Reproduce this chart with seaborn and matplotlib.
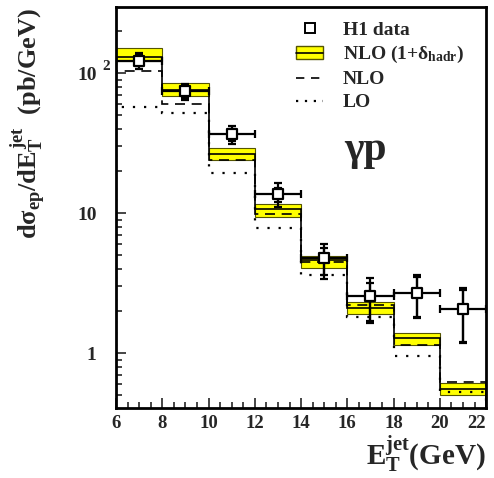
import numpy as np
import seaborn as sns
import matplotlib
matplotlib.use("Agg")
import matplotlib.pyplot as plt
from matplotlib.patches import Patch
from matplotlib.lines import Line2D
from matplotlib.ticker import FixedLocator, LogLocator, MultipleLocator, NullFormatter

# bin edges in E_T^jet (GeV)
edges = [6, 8, 10, 12, 14, 16, 18, 20, 22]
centers = [7, 9, 11, 13, 15, 17, 19, 21]

# H1 data with total error range
data_y = [123, 74, 36.7, 13.7, 4.77, 2.55, 2.68, 2.06]
data_hi = [139, 84, 41.8, 16.4, 6.0, 3.43, 3.6, 2.91]
data_lo = [107, 64, 31.0, 11.0, 3.38, 1.64, 1.78, 1.18]
data_stat_hi = [134, 81, 40.0, 15.2, 5.6, 3.2, 3.5, 2.85]
data_stat_lo = [112, 67, 33.0, 12.0, 3.6, 1.7, 1.8, 1.2]

# NLO x (1 + delta_hadr) band
nlo_had = [130, 75.6, 26.4, 10.7, 4.6, 2.1, 1.28, 0.56]
nlo_had_hi = [151, 85, 29.0, 11.6, 4.93, 2.31, 1.39, 0.61]
nlo_had_lo = [122, 68.5, 23.9, 9.36, 4.05, 1.9, 1.14, 0.50]

# pure NLO and LO
nlo = [103, 60, 24.0, 9.84, 4.47, 2.2, 1.14, 0.62]
lo = [57, 52, 19.3, 7.8, 3.6, 1.81, 0.95, 0.53]

y_ticks = [1, 10, 100]
y_ticklabels = ["1", "10", "10"]

sns.set_style("ticks")
plt.rcParams["font.family"] = ["Liberation Serif", "DejaVu Serif"]
plt.rcParams["font.weight"] = "bold"
plt.rcParams["mathtext.fontset"] = "custom"
plt.rcParams["mathtext.rm"] = "Liberation Serif:bold"
plt.rcParams["mathtext.it"] = "Liberation Serif:bold"
plt.rcParams["mathtext.bf"] = "Liberation Serif:bold"

fig = plt.figure(figsize=(4.94, 4.78), dpi=100)
ax = fig.add_axes([0.235, 0.146, 0.749, 0.839])

e = np.array(edges)
lo_b = np.array(nlo_had_lo)
hi_b = np.array(nlo_had_hi)

# yellow band per bin
ax.bar(e[:-1], hi_b - lo_b, bottom=lo_b, width=np.diff(e), align="edge",
       color="#ffff00", edgecolor="#555500", linewidth=0.8, zorder=2)
ax.stairs(nlo_had, edges, color="black", linewidth=1.2, zorder=3)
ax.stairs(nlo, edges, color="black", linewidth=1.2, linestyle=(0, (6, 4)), zorder=3)
ax.stairs(lo, edges, color="black", linewidth=1.6, linestyle=(0, (1, 4)), zorder=3)

# data points (total and stat errors)
xerr = np.diff(e) / 2
yd = np.array(data_y)
ax.errorbar(centers, data_y, xerr=xerr,
            yerr=[yd - np.array(data_lo), np.array(data_hi) - yd],
            fmt="none", ecolor="black", elinewidth=1.6, capsize=3, capthick=1.6, zorder=4)
ax.errorbar(centers, data_y,
            yerr=[yd - np.array(data_stat_lo), np.array(data_stat_hi) - yd],
            fmt="none", ecolor="black", elinewidth=1.6, capsize=3, capthick=1.6, zorder=4)
sns.scatterplot(x=centers, y=data_y, marker="s", s=60, facecolor="white",
                edgecolor="black", linewidth=1.6, zorder=5, ax=ax)

ax.set_yscale("log")
ax.set_xlim(6, 22)
ax.set_ylim(0.405, 296)

ax.yaxis.set_major_locator(FixedLocator(y_ticks))
ax.set_yticklabels(y_ticklabels)
ax.yaxis.set_minor_locator(LogLocator(base=10, subs=np.arange(2, 10)))
ax.yaxis.set_minor_formatter(NullFormatter())
ax.set_xticks(edges)
ax.xaxis.set_minor_locator(MultipleLocator(0.5))

ax.tick_params(which="both", direction="in", width=1.2)
ax.tick_params(which="major", length=7)
ax.tick_params(axis="y", which="major", pad=14, labelsize=14)
ax.tick_params(axis="x", which="major", pad=5, labelsize=13.5)
ax.tick_params(which="minor", length=4)
for lab in ax.get_xticklabels() + ax.get_yticklabels():
    lab.set_fontweight("bold")
xl = ax.get_xticklabels()
xl[-1].set_horizontalalignment("right")
xl[-1].set_x(22.3)
for s in ax.spines.values():
    s.set_linewidth(2)
    s.set_color("black")

# exponent of the 10^2 label, detached like the original
ax.text(-0.016, 100, "2", transform=ax.get_yaxis_transform(), fontsize=11,
        fontweight="bold", ha="right", va="bottom")

ax.set_ylabel(r"d$\sigma_{ep}$/dE$_{T}^{\,jet}$  (pb/GeV)", fontsize=19,
              fontweight="bold", loc="top")
ax.yaxis.set_label_coords(-0.185, 0.998)
ax.set_xlabel(r"E$_T^{jet}$(GeV)", fontsize=21, fontweight="bold", loc="right", labelpad=1)

handles = [
    Line2D([], [], marker="s", color="none", markerfacecolor="white",
           markeredgecolor="black", markersize=7, markeredgewidth=1.4),
    (Patch(facecolor="#ffff00", edgecolor="#555500"),
     Line2D([], [], color="black", linewidth=1.2)),
    Line2D([], [], color="black", linewidth=1.2, linestyle=(0, (5, 4))),
    Line2D([], [], color="black", linewidth=1.6, linestyle=(0, (1, 3))),
]
labels = ["H1 data", r"NLO (1+$\delta_{hadr}$)", "NLO", "LO"]
ax.legend(handles, labels, loc="upper left", bbox_to_anchor=(0.486, 0.965),
          frameon=False, handlelength=1.4, handletextpad=1.0,
          labelspacing=0.28, borderaxespad=0, borderpad=0,
          prop={"weight": "bold", "size": 14, "family": "Liberation Serif"})

ax.text(0.673, 0.645, "γp", transform=ax.transAxes, fontsize=30,
        fontweight="bold", ha="center", va="center")

fig.savefig("out.png", dpi=100)
